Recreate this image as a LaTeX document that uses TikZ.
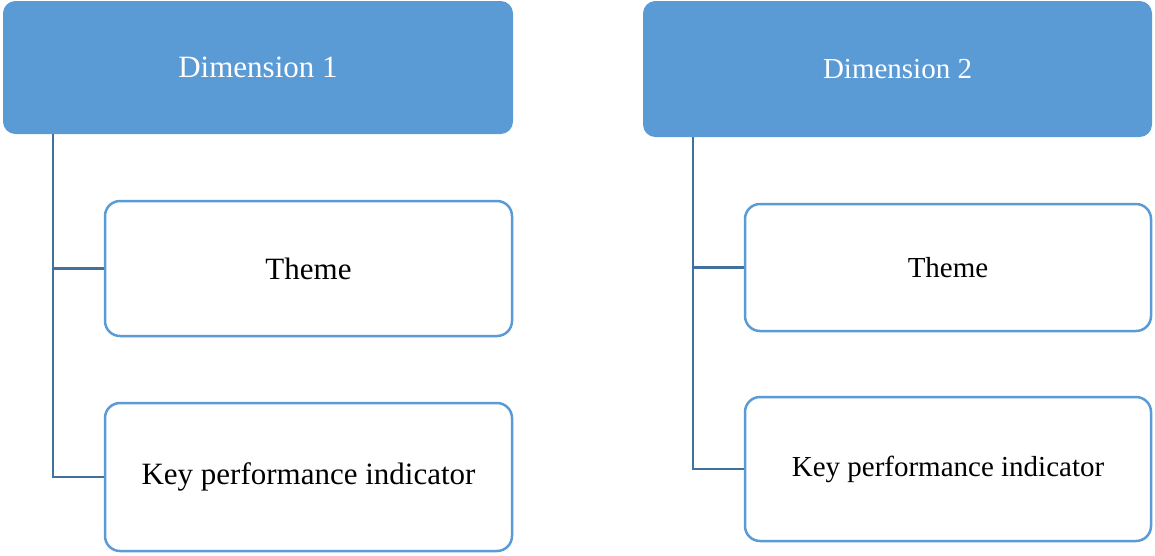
\documentclass[tikz,border=0pt]{standalone}
\usepackage{fontspec}
\setmainfont{Liberation Serif}
\usetikzlibrary{calc}
\definecolor{headblue}{HTML}{5B9BD5}
\definecolor{linkblue}{HTML}{41719C}
\tikzset{
  header/.style={fill=headblue, draw=headblue, line width=1pt, rounded corners=12pt,
    text=white, align=center, inner sep=0pt},
  itembox/.style={draw=headblue, fill=white, line width=2.5pt, rounded corners=15pt,
    text=black, align=center, inner sep=0pt},
  link/.style={draw=linkblue, line width=2.5pt},
  bigtext/.style={font=\fontsize{31}{36}\selectfont},
  smalltext/.style={font=\fontsize{29}{34}\selectfont}
}
\begin{document}
\begin{tikzpicture}[x=1pt,y=-1pt]
\useasboundingbox (0,0) rectangle (1155,555);

% Dimension 1 column
\node[header, bigtext, minimum width=509pt, minimum height=132pt] (h1) at (258,67.5) {Dimension 1};
\node[itembox, bigtext, minimum width=407pt, minimum height=135pt] (t1) at (308.5,268.5) {Theme};
\node[itembox, bigtext, minimum width=407pt, minimum height=148pt] (k1) at (308.5,477) {Key performance indicator};
\coordinate (v1) at ($(h1.south west)+(50,0)$);
\draw[link] (v1) |- (k1.west);
\draw[link] (v1 |- t1.west) -- (t1.west);

% Dimension 2 column
\node[header, smalltext, minimum width=508pt, minimum height=135pt] (h2) at (897.5,69) {Dimension 2};
\node[itembox, smalltext, minimum width=406pt, minimum height=127pt] (t2) at (948,267.5) {Theme};
\node[itembox, smalltext, minimum width=406pt, minimum height=144pt] (k2) at (948,469) {Key performance indicator};
\coordinate (v2) at ($(h2.south west)+(50,0)$);
\draw[link] (v2) |- (k2.west);
\draw[link] (v2 |- t2.west) -- (t2.west);
\end{tikzpicture}
\end{document}
